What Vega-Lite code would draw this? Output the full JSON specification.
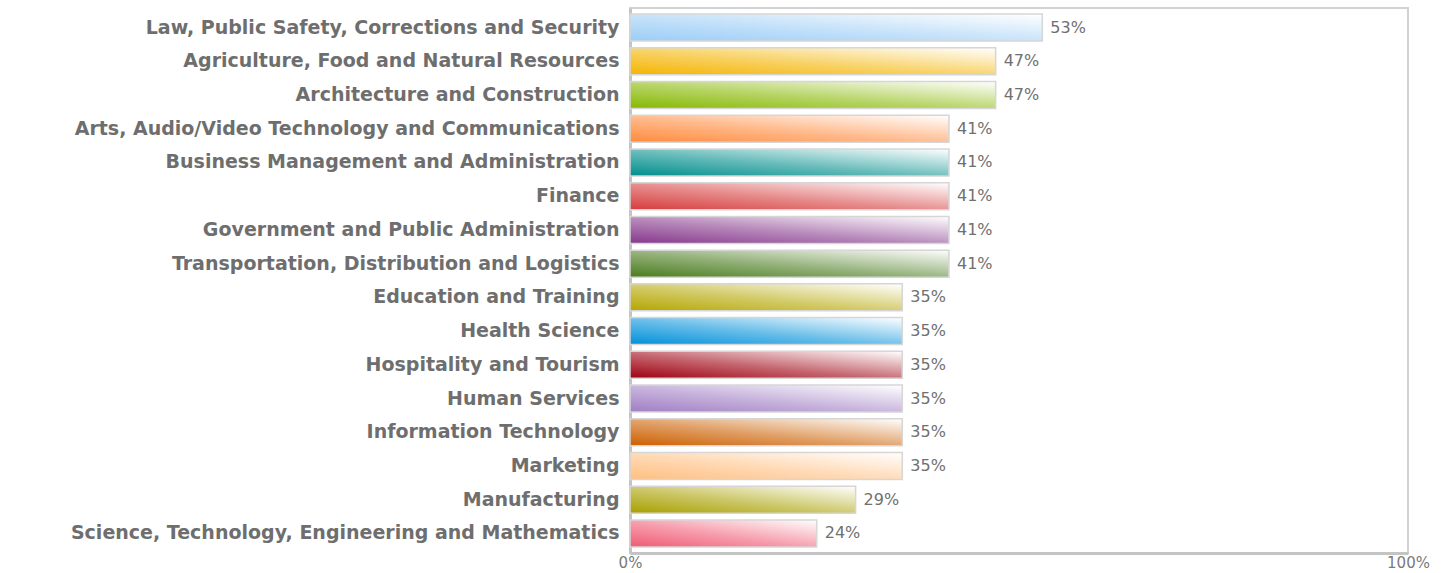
{
  "$schema": "https://vega.github.io/schema/vega-lite/v6.json",
  "autosize": "none",
  "width": 778,
  "height": 545,
  "padding": {"left": 630, "top": 8, "right": 41, "bottom": 20},
  "background": "white",
  "data": {
    "values": [
      {"cluster": "Law, Public Safety, Corrections and Security", "share": 0.53},
      {"cluster": "Agriculture, Food and Natural Resources", "share": 0.47},
      {"cluster": "Architecture and Construction", "share": 0.47},
      {"cluster": "Arts, Audio/Video Technology and Communications", "share": 0.41},
      {"cluster": "Business Management and Administration", "share": 0.41},
      {"cluster": "Finance", "share": 0.41},
      {"cluster": "Government and Public Administration", "share": 0.41},
      {"cluster": "Transportation, Distribution and Logistics", "share": 0.41},
      {"cluster": "Education and Training", "share": 0.35},
      {"cluster": "Health Science", "share": 0.35},
      {"cluster": "Hospitality and Tourism", "share": 0.35},
      {"cluster": "Human Services", "share": 0.35},
      {"cluster": "Information Technology", "share": 0.35},
      {"cluster": "Marketing", "share": 0.35},
      {"cluster": "Manufacturing", "share": 0.29},
      {"cluster": "Science, Technology, Engineering and Mathematics", "share": 0.24}
    ]
  },
  "encoding": {
    "y": {
      "field": "cluster",
      "type": "nominal",
      "sort": null,
      "title": null,
      "scale": {"paddingInner": 0.2, "paddingOuter": 0.18},
      "axis": {
        "ticks": false,
        "labelFont": "DejaVu Sans",
        "labelFontWeight": "bold",
        "labelFontSize": 19,
        "labelColor": "#6e6e6e",
        "labelPadding": 11,
        "labelLimit": 700,
        "domainColor": "#c4c4c4",
        "domainWidth": 3
      }
    },
    "x": {
      "field": "share",
      "type": "quantitative",
      "title": null,
      "scale": {"domain": [0, 1], "nice": false},
      "axis": {
        "values": [0, 1],
        "format": ".0%",
        "ticks": false,
        "grid": false,
        "labelFlush": false,
        "labelFont": "DejaVu Sans",
        "labelFontSize": 15,
        "labelColor": "#7a7a7a",
        "labelPadding": 2,
        "domainColor": "#c4c4c4",
        "domainWidth": 3
      }
    }
  },
  "layer": [
    {
      "mark": {"type": "bar", "x": 2},
      "encoding": {
        "color": {
          "field": "cluster",
          "type": "nominal",
          "legend": null,
          "scale": {
            "domain": [
              "Law, Public Safety, Corrections and Security",
              "Agriculture, Food and Natural Resources",
              "Architecture and Construction",
              "Arts, Audio/Video Technology and Communications",
              "Business Management and Administration",
              "Finance",
              "Government and Public Administration",
              "Transportation, Distribution and Logistics",
              "Education and Training",
              "Health Science",
              "Hospitality and Tourism",
              "Human Services",
              "Information Technology",
              "Marketing",
              "Manufacturing",
              "Science, Technology, Engineering and Mathematics"
            ],
            "range": [
              "#9ccdf6", "#f4b400", "#86b800", "#ff8a3c", "#008e8c", "#d63c3c", "#86388c", "#4a7c1e",
              "#b4a600", "#0090da", "#9e0010", "#a07ec4", "#cc5f00", "#ffbf80", "#a8a000", "#f05a74"
            ]
          }
        }
      }
    },
    {
      "mark": {
        "type": "bar",
        "x": 2,
        "fill": {
          "gradient": "linear",
          "x1": 0, "y1": 1, "x2": 1, "y2": 0,
          "stops": [
            {"offset": 0, "color": "rgba(255,255,255,0)"},
            {"offset": 0.45, "color": "rgba(255,255,255,0.4)"},
            {"offset": 1, "color": "rgba(255,255,255,1)"}
          ]
        },
        "stroke": "#d6d6d6",
        "strokeWidth": 1.5
      }
    },
    {
      "mark": {
        "type": "text",
        "align": "left",
        "baseline": "middle",
        "dx": 8,
        "font": "DejaVu Sans",
        "fontSize": 16,
        "color": "#707070"
      },
      "encoding": {
        "text": {"field": "share", "type": "quantitative", "format": ".0%"}
      }
    }
  ],
  "config": {
    "view": {"stroke": "#d2d2d2", "strokeWidth": 2}
  }
}
